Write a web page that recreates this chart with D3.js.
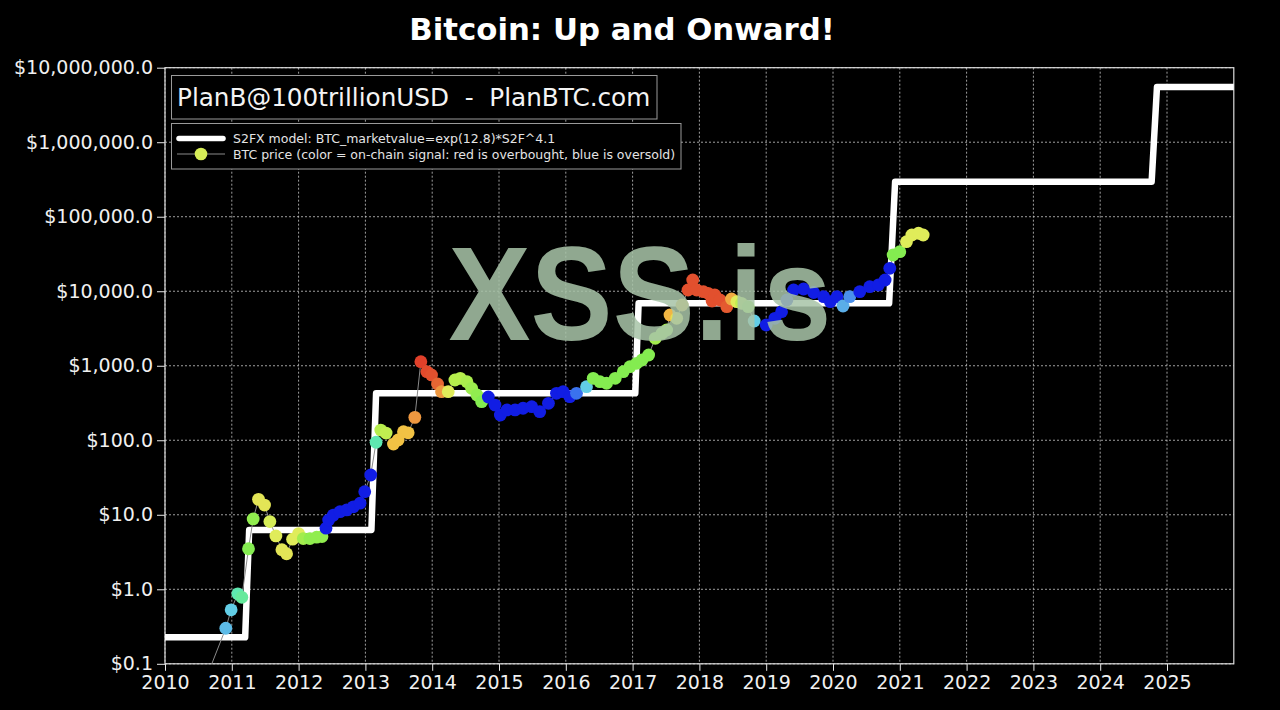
<!DOCTYPE html>
<html>
<head>
<meta charset="utf-8">
<script src="https://cdn.jsdelivr.net/npm/d3@7"></script>
<style>
  html, body { margin: 0; padding: 0; background: #000; }
  svg { display: block; }
</style>
</head>
<body>
<script>
// ---------- DATA ----------
const titleText = "Bitcoin: Up and Onward!";
const yTickValues = [0.1, 1, 10, 100, 1000, 10000, 100000, 1000000, 10000000];
const xTickValues = [2010, 2011, 2012, 2013, 2014, 2015, 2016, 2017, 2018, 2019, 2020, 2021, 2022, 2023, 2024, 2025];

// S2FX model (stepped)
const modelYears  = [2010.0, 2011.2, 2011.26, 2013.09, 2013.16, 2017.04, 2017.09, 2020.84, 2020.93, 2024.77, 2024.85, 2025.97];
const modelValues = [0.227, 0.227, 6.25, 6.25, 427, 427, 6890, 6890, 295000, 295000, 5510000, 5510000];

// BTC price points
const btcYears = [2010.63, 2010.91, 2010.99, 2011.09, 2011.15, 2011.25, 2011.32, 2011.40, 2011.49, 2011.57,
  2011.66, 2011.75, 2011.82, 2011.91, 2012.00, 2012.07, 2012.17, 2012.27, 2012.35, 2012.41,
  2012.45, 2012.52, 2012.62, 2012.72, 2012.82, 2012.92, 2012.99, 2013.08, 2013.16, 2013.23,
  2013.31, 2013.42, 2013.49, 2013.57, 2013.64, 2013.74, 2013.83, 2013.92, 2013.99, 2014.08,
  2014.14, 2014.24, 2014.34, 2014.42, 2014.52, 2014.59, 2014.67, 2014.74, 2014.84, 2014.94,
  2015.02, 2015.12, 2015.24, 2015.36, 2015.49, 2015.61, 2015.74, 2015.86, 2015.96, 2016.06,
  2016.16, 2016.31, 2016.41, 2016.51, 2016.61, 2016.74, 2016.86, 2016.96, 2017.06, 2017.14,
  2017.24, 2017.34, 2017.44, 2017.51, 2017.56, 2017.66, 2017.74, 2017.83, 2017.90, 2017.96,
  2018.06, 2018.13, 2018.19, 2018.23, 2018.31, 2018.41, 2018.48, 2018.56, 2018.63, 2018.73,
  2018.82, 2019.00, 2019.13, 2019.23, 2019.31, 2019.41, 2019.56, 2019.71, 2019.86, 2019.96,
  2020.06, 2020.15, 2020.25, 2020.40, 2020.55, 2020.68, 2020.78, 2020.85, 2020.90, 2021.00,
  2021.10, 2021.18, 2021.28, 2021.35];
const btcPrices = [0.069, 0.30, 0.53, 0.87, 0.78, 3.5, 8.8, 16.1, 13.5, 8.1,
  5.2, 3.4, 3.0, 4.7, 5.6, 4.8, 4.8, 5.0, 5.1, 6.6,
  8.5, 9.9, 11.0, 11.6, 12.8, 14.3, 20.4, 34.2, 94, 137,
  125, 89, 101, 130, 126, 203, 1134, 832, 752, 569,
  449, 449, 644, 679, 611, 498, 405, 329, 381, 297,
  218, 255, 255, 269, 282, 242, 313, 427, 449, 384,
  427, 524, 679, 611, 582, 679, 832, 971, 1079, 1195,
  1394, 2336, 2727, 3020, 4800, 4335, 6540, 10390, 14160, 10390,
  9860, 9387, 7398, 8907, 7630, 6204, 7870, 7240, 6890, 6204,
  3988, 3524, 4335, 5316, 7630, 10390, 10720, 9620, 8450, 7240,
  8450, 6340, 8450, 9860, 11510, 12130, 14160, 20320, 30660, 33950,
  46240, 56890, 59970, 56890];
// on-chain signal: 0 = oversold (blue) ... 1 = overbought (red)
const btcSignal = [0.30, 0.28, 0.32, 0.40, 0.42, 0.50, 0.52, 0.68, 0.68, 0.64,
  0.66, 0.68, 0.68, 0.66, 0.66, 0.55, 0.52, 0.52, 0.52, 0.02,
  0.02, 0.02, 0.02, 0.02, 0.02, 0.02, 0.02, 0.02, 0.40, 0.58,
  0.60, 0.78, 0.78, 0.78, 0.78, 0.85, 1.00, 0.98, 0.97, 0.93,
  0.85, 0.66, 0.58, 0.58, 0.56, 0.54, 0.52, 0.50, 0.02, 0.02,
  0.02, 0.02, 0.02, 0.02, 0.02, 0.02, 0.02, 0.02, 0.02, 0.02,
  0.15, 0.32, 0.50, 0.50, 0.50, 0.50, 0.50, 0.50, 0.50, 0.50,
  0.50, 0.55, 0.55, 0.55, 0.80, 0.70, 0.80, 0.97, 0.97, 0.97,
  0.97, 0.97, 0.97, 0.97, 0.97, 0.95, 0.82, 0.66, 0.60, 0.55,
  0.32, 0.02, 0.02, 0.02, 0.02, 0.02, 0.02, 0.02, 0.02, 0.02,
  0.02, 0.25, 0.20, 0.02, 0.02, 0.02, 0.02, 0.02, 0.50, 0.50,
  0.66, 0.66, 0.66, 0.66];

const signatureText = "PlanB@100trillionUSD  -  PlanBTC.com";
const legendLabels = ["S2FX model: BTC_marketvalue=exp(12.8)*S2F^4.1",
                      "BTC price (color = on-chain signal: red is overbought, blue is oversold)"];
const watermarkText = "XSS.is";

// ---------- LAYOUT ----------
const W = 1280, H = 710;
const plot = {left: 165, right: 1233.8, top: 67.7, bottom: 663.8};
const FONT = "'DejaVu Sans', sans-serif";

const svg = d3.select("body").append("svg").attr("width", W).attr("height", H)
  .style("background", "#000");

const x = d3.scaleLinear().domain([2010, 2026]).range([plot.left, plot.right]);
const y = d3.scaleLog().domain([0.1, 1e7]).range([plot.bottom, plot.top]);

const signalColor = d3.scaleLinear()
  .domain([0, 0.15, 0.25, 0.32, 0.40, 0.50, 0.58, 0.66, 0.78, 0.85, 0.95, 1.0])
  .range(["#0b10e2", "#3a72ee", "#5aaee8", "#62cde6", "#5ee8b0", "#84ec50",
          "#b6ee4c", "#e0ec5a", "#f2c244", "#ee9840", "#e45a30", "#e0402a"])
  .clamp(true);

svg.append("defs").append("clipPath").attr("id", "clip")
  .append("rect").attr("x", plot.left).attr("y", plot.top)
  .attr("width", plot.right - plot.left).attr("height", plot.bottom - plot.top);

// Title
svg.append("text").attr("x", 622).attr("y", 40).attr("text-anchor", "middle")
  .attr("font-family", FONT).attr("font-weight", "bold").attr("font-size", 30.8)
  .attr("fill", "#fff").text(titleText);

// Grid
const grid = svg.append("g");
grid.selectAll("line.gx").data(xTickValues).join("line")
  .attr("x1", d => x(d)).attr("x2", d => x(d))
  .attr("y1", plot.top).attr("y2", plot.bottom)
  .attr("stroke", "#c8c8c8").attr("stroke-width", 0.8).attr("stroke-dasharray", "2,2");
grid.selectAll("line.gy").data(yTickValues).join("line")
  .attr("x1", plot.left).attr("x2", plot.right)
  .attr("y1", d => y(d)).attr("y2", d => y(d))
  .attr("stroke", "#c8c8c8").attr("stroke-width", 0.8).attr("stroke-dasharray", "2,2");

// Axes
const fmtY = v => "$" + d3.format(",.1f")(v);
const yAxis = svg.append("g").attr("transform", `translate(${plot.left},0)`)
  .call(d3.axisLeft(y).tickValues(yTickValues).tickFormat(fmtY).tickSize(8).tickPadding(4));
const xAxis = svg.append("g").attr("transform", `translate(0,${plot.bottom})`)
  .call(d3.axisBottom(x).tickValues(xTickValues).tickFormat(d3.format("d")).tickSize(7).tickPadding(5));
[yAxis, xAxis].forEach(a => {
  a.select(".domain").remove();
  a.selectAll(".tick line").attr("stroke", "#e8e8e8");
  a.selectAll(".tick text").attr("fill", "#f0f0f0").attr("font-family", FONT).attr("font-size", 19);
});

// Frame
svg.append("rect").attr("x", plot.left).attr("y", plot.top)
  .attr("width", plot.right - plot.left).attr("height", plot.bottom - plot.top)
  .attr("fill", "none").attr("stroke", "#dcdcdc").attr("stroke-width", 1.2);

// Data layer
const layer = svg.append("g").attr("clip-path", "url(#clip)");

const modelData = modelYears.map((t, i) => ({t, v: modelValues[i]}));
const btcData = btcYears.map((t, i) => ({t, v: btcPrices[i], s: btcSignal[i]}));

const line = d3.line().x(d => x(d.t)).y(d => y(d.v));

layer.append("path").datum(modelData).attr("d", line)
  .attr("fill", "none").attr("stroke", "#fff").attr("stroke-width", 6.5)
  .attr("stroke-linejoin", "round").attr("stroke-linecap", "square");

layer.append("path").datum(btcData).attr("d", line)
  .attr("fill", "none").attr("stroke", "#8a8a8a").attr("stroke-width", 1);

layer.selectAll("circle").data(btcData).join("circle")
  .attr("cx", d => x(d.t)).attr("cy", d => y(d.v)).attr("r", 6.4)
  .attr("fill", d => signalColor(d.s));

// Watermark
svg.append("text").attr("x", 640).attr("y", 340).attr("text-anchor", "middle")
  .attr("font-family", "'Liberation Sans', Arial, sans-serif").attr("font-weight", "bold")
  .attr("font-size", 134).attr("textLength", 383).attr("lengthAdjust", "spacingAndGlyphs")
  .attr("fill", "#a8c4a8").attr("fill-opacity", 0.86).text(watermarkText);

// Signature box
svg.append("rect").attr("x", 171.5).attr("y", 75.5).attr("width", 485.5).attr("height", 43.5)
  .attr("fill", "#000").attr("stroke", "#9a9a9a").attr("stroke-width", 1);
svg.append("text").attr("x", 177).attr("y", 106).attr("font-family", FONT)
  .attr("font-size", 24.7).attr("fill", "#f4f4f4").attr("xml:space", "preserve")
  .style("white-space", "pre").text(signatureText);

// Legend box
svg.append("rect").attr("x", 171.5).attr("y", 123.5).attr("width", 509.5).attr("height", 45.5)
  .attr("fill", "#000").attr("stroke", "#9a9a9a").attr("stroke-width", 1);
const lg = svg.append("g");
lg.append("line").attr("x1", 179).attr("x2", 223).attr("y1", 138.5).attr("y2", 138.5)
  .attr("stroke", "#fff").attr("stroke-width", 5.5).attr("stroke-linecap", "round");
lg.append("line").attr("x1", 177).attr("x2", 225).attr("y1", 154).attr("y2", 154)
  .attr("stroke", "#8a8a8a").attr("stroke-width", 1);
lg.append("circle").attr("cx", 201).attr("cy", 154).attr("r", 6.3).attr("fill", signalColor(0.64));
lg.selectAll("text").data(legendLabels).join("text")
  .attr("x", 233).attr("y", (d, i) => 143 + i * 15.5)
  .attr("font-family", FONT).attr("font-size", 12.5).attr("fill", "#e4e4e4")
  .text(d => d);
</script>
</body>
</html>
